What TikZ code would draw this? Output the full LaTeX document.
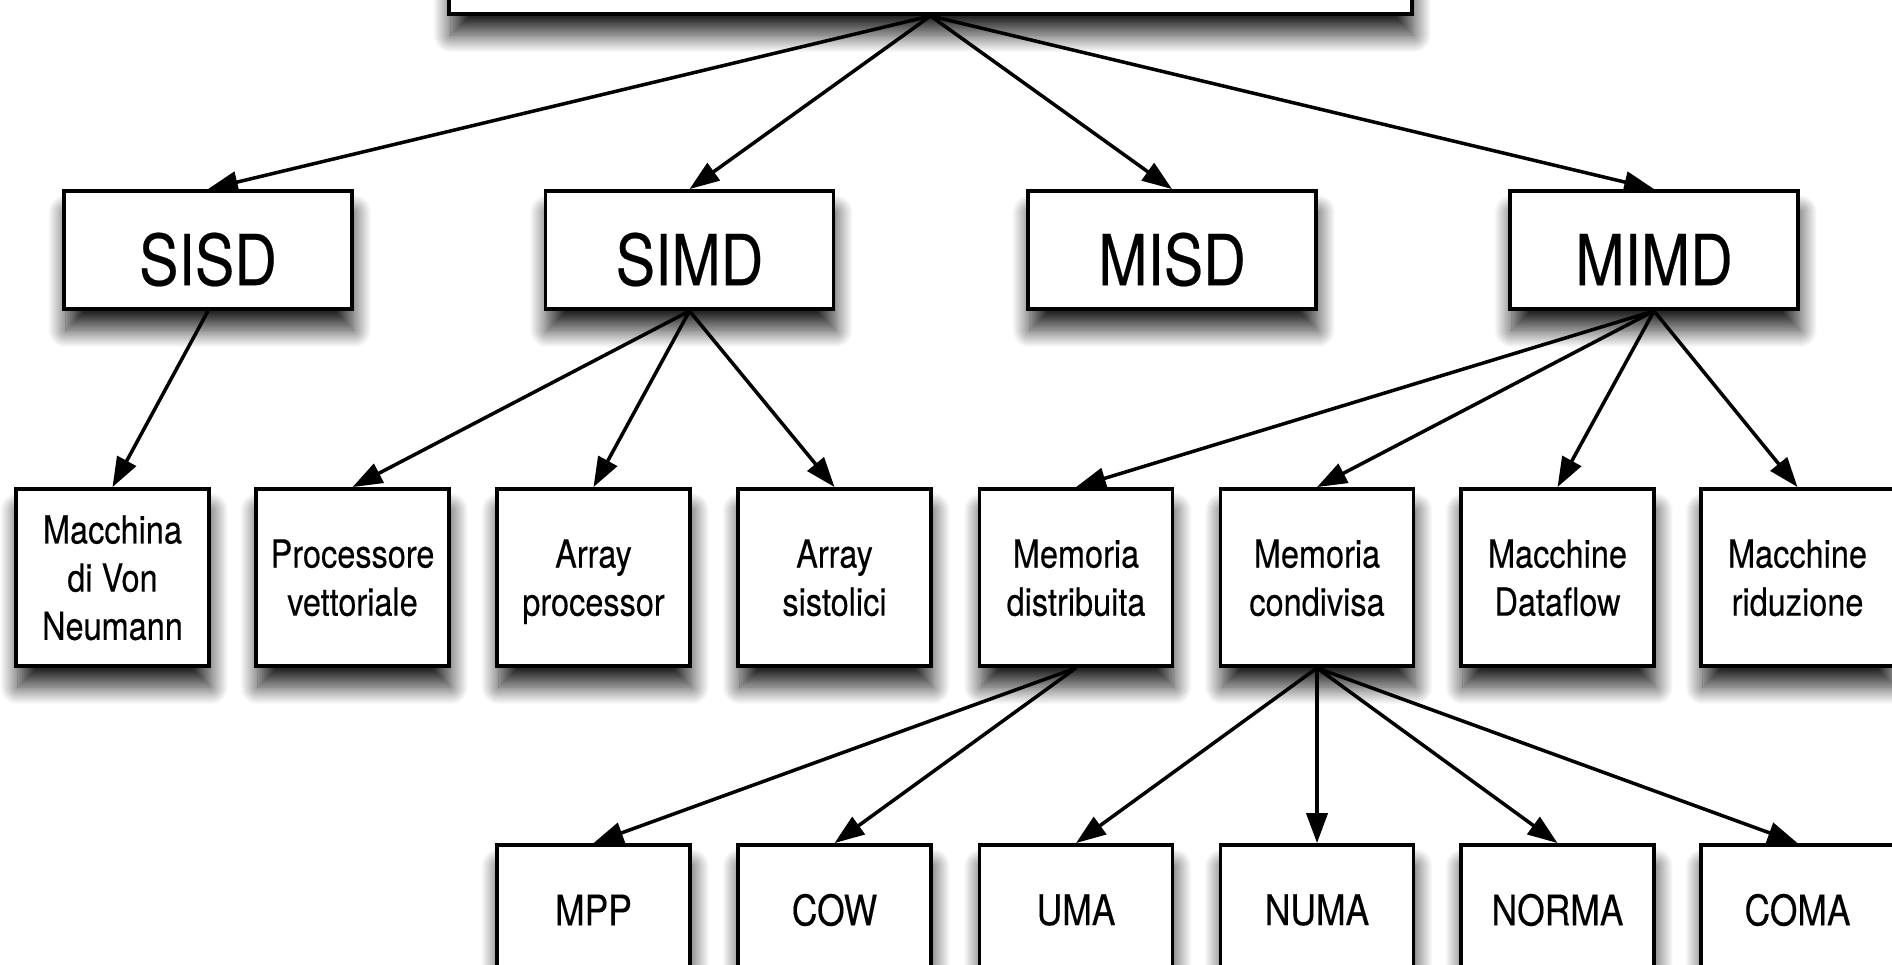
\documentclass[tikz,border=0pt]{standalone}
\usepackage{fontspec}
\setmainfont{TeX Gyre Heros}[FakeStretch=0.84,FakeBold=0.3]
\usetikzlibrary{arrows.meta,shadows.blur}

\begin{document}
\begin{tikzpicture}[
        box/.style={rectangle, draw, line width=1.1pt, fill=white, inner sep=1pt,
                    blur shadow={shadow xshift=0.5pt, shadow yshift=-6pt, shadow blur radius=5pt, shadow blur steps=24, shadow opacity=85}},
        big/.style={box, minimum width=2.88cm, minimum height=1.18cm, text height=20pt, text depth=0pt, font=\fontsize{20}{24}\selectfont},
        mid/.style={box, minimum width=1.93cm, minimum height=1.77cm, align=center, text depth=-3.5pt, font=\fontsize{11}{13.7}\selectfont},
        low/.style={box, minimum width=1.93cm, minimum height=1.30cm, font=\fontsize{12}{14}\selectfont},
        arr/.style={-{Triangle[length=8.5pt,width=6pt]}, line width=1pt}
    ]
         \useasboundingbox (0,0) rectangle (18.92,-9.64);
         \clip (0,0) rectangle (18.92,-9.64);

         \node [box, minimum width=9.63cm, minimum height=2cm] (A) at (9.305,0.86) {};

         \node [big] (SISD) at (2.08,-2.50)  {SISD};
         \node [big] (SIMD) at (6.895,-2.50) {SIMD};
         \node [big] (MISD) at (11.72,-2.50) {MISD};
         \node [big] (MIMD) at (16.54,-2.50) {MIMD};

         \node [mid] (VN)  at (1.125,-5.775)  {Macchina\\di Von\\Neumann};
         \node [mid] (PV)  at (3.525,-5.775)  {Processore\\vettoriale};
         \node [mid] (AP)  at (5.935,-5.775)  {Array\\processor};
         \node [mid] (AS)  at (8.345,-5.775)  {Array\\sistolici};
         \node [mid] (MD)  at (10.76,-5.775)  {Memoria\\distribuita};
         \node [mid] (MC)  at (13.17,-5.775)  {Memoria\\condivisa};
         \node [mid] (DF)  at (15.575,-5.775) {Macchine\\Dataflow};
         \node [mid] (RID) at (17.975,-5.775) {Macchine\\riduzione};

         \node [low] (MPP)   at (5.935,-9.10)  {MPP};
         \node [low] (COW)   at (8.345,-9.10)  {COW};
         \node [low] (UMA)   at (10.76,-9.10)  {UMA};
         \node [low] (NUMA)  at (13.17,-9.10)  {NUMA};
         \node [low] (NORMA) at (15.575,-9.10) {NORMA};
         \node [low] (COMA)  at (17.975,-9.10) {COMA};

  		 \draw [arr] (A.south) -- (SISD.north);
  		 \draw [arr] (A.south) -- (SIMD.north);
  		 \draw [arr] (A.south) -- (MISD.north);
  		 \draw [arr] (A.south) -- (MIMD.north);

  		 \draw [arr] (SISD.south) -- (VN.north);
  		 \draw [arr] (SIMD.south) -- (PV.north);
  		 \draw [arr] (SIMD.south) -- (AP.north);
  		 \draw [arr] (SIMD.south) -- (AS.north);
  		 \draw [arr] (MIMD.south) -- (MD.north);
  		 \draw [arr] (MIMD.south) -- (MC.north);
  		 \draw [arr] (MIMD.south) -- (DF.north);
  		 \draw [arr] (MIMD.south) -- (RID.north);

  		 \draw [arr] (MD.south) -- (MPP.north);
  		 \draw [arr] (MD.south) -- (COW.north);
  		 \draw [arr] (MC.south) -- (UMA.north);
  		 \draw [arr] (MC.south) -- (NUMA.north);
  		 \draw [arr] (MC.south) -- (NORMA.north);
  		 \draw [arr] (MC.south) -- (COMA.north);

        \end{tikzpicture}
\end{document}
